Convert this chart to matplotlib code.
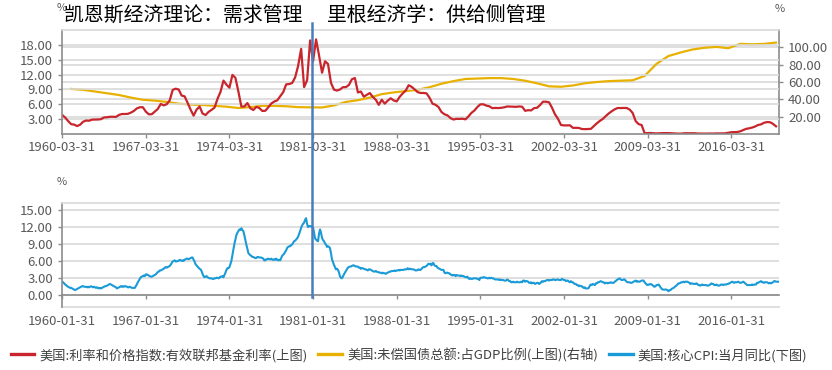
import numpy as np
import pandas as pd
import matplotlib
matplotlib.use("Agg")
import matplotlib.pyplot as plt
import matplotlib.dates as mdates
from matplotlib.lines import Line2D
from matplotlib.transforms import blended_transform_factory

plt.rcParams['font.family'] = ['Noto Sans CJK SC', 'DejaVu Sans']

# effective fed funds rate, quarter-end months, 1960Q1 - 2019Q4
fed_funds = [
    3.84, 3.32, 2.60, 1.98,   # 1960
    1.90, 1.60, 1.88, 2.48,
    2.72, 2.68, 2.90, 2.92,
    2.93, 2.99, 3.34, 3.38,
    3.48, 3.48, 3.45, 3.85,
    4.04, 4.04, 4.07, 4.32,   # 1965
    4.65, 5.17, 5.40, 5.40,
    4.53, 3.98, 3.99, 4.51,
    5.05, 6.07, 5.78, 6.02,
    6.79, 8.90, 9.15, 8.97,
    7.76, 7.60, 6.29, 4.90,   # 1970
    3.71, 4.91, 5.55, 4.14,
    3.83, 4.46, 4.87, 5.33,
    7.09, 8.49, 10.78, 9.95,
    9.35, 11.93, 11.34, 8.53,
    5.54, 5.55, 6.24, 5.20,   # 1975
    4.84, 5.48, 5.25, 4.65,
    4.69, 5.39, 6.14, 6.56,
    6.79, 7.60, 8.45, 10.03,
    10.09, 10.29, 11.43, 13.78,
    17.19, 9.47, 10.87, 18.90,  # 1980
    14.70, 19.10, 15.87, 12.37,
    14.68, 14.15, 10.31, 8.95,
    8.77, 8.98, 9.45, 9.47,
    9.91, 11.06, 11.30, 8.38,
    8.58, 7.53, 7.92, 8.27,   # 1985
    7.48, 6.92, 5.89, 6.91,
    6.13, 6.73, 7.22, 6.77,
    6.58, 7.51, 8.19, 8.76,
    9.85, 9.53, 9.01, 8.45,
    8.28, 8.29, 8.20, 7.31,   # 1990
    6.12, 5.90, 5.45, 4.43,
    3.98, 3.76, 3.22, 2.92,
    3.07, 3.04, 3.09, 2.96,
    3.53, 4.25, 4.73, 5.45,
    5.98, 6.00, 5.74, 5.60,   # 1995
    5.22, 5.27, 5.24, 5.29,
    5.39, 5.56, 5.54, 5.50,
    5.49, 5.56, 5.51, 4.68,
    4.81, 4.76, 5.22, 5.30,
    5.85, 6.53, 6.52, 6.40,   # 2000
    5.31, 3.97, 3.07, 1.82,
    1.73, 1.75, 1.75, 1.24,
    1.25, 1.22, 1.01, 0.98,
    1.00, 1.03, 1.61, 2.16,
    2.63, 3.04, 3.62, 4.16,   # 2005
    4.59, 4.99, 5.25, 5.24,
    5.26, 5.25, 4.94, 4.24,
    2.61, 2.00, 1.81, 0.16,
    0.18, 0.21, 0.15, 0.12,
    0.16, 0.18, 0.19, 0.18,   # 2010
    0.14, 0.09, 0.08, 0.07,
    0.13, 0.16, 0.14, 0.16,
    0.14, 0.09, 0.08, 0.09,
    0.08, 0.10, 0.09, 0.12,
    0.11, 0.13, 0.14, 0.24,   # 2015
    0.36, 0.38, 0.40, 0.54,
    0.79, 1.04, 1.15, 1.30,
    1.51, 1.82, 1.95, 2.27,
    2.41, 2.38, 2.04, 1.55,
]

# federal debt / GDP, year end, 1960 - 2019
debt_gdp = [
    52.0, 51.0, 49.0, 47.0, 45.0, 42.0, 39.5, 38.5, 37.0, 35.0,
    34.0, 33.5, 32.5, 31.5, 30.0, 31.0, 32.5, 32.5, 32.0, 31.0,
    30.8, 30.6, 33.0, 37.0, 39.0, 42.0, 46.0, 48.0, 49.5, 51.0,
    54.0, 58.0, 61.0, 63.5, 64.0, 64.5, 64.5, 63.5, 61.5, 58.5,
    55.0, 54.5, 56.0, 58.5, 60.0, 61.0, 61.5, 62.0, 67.0, 81.0,
    90.0, 94.0, 97.5, 99.5, 100.5, 99.0, 104.0, 103.5, 104.0, 105.5,
]

# core CPI yoy, monthly, 1960-01 - 2019-12
core_cpi = [
    2.3, 2.2, 2.0, 1.8, 1.7, 1.5, 1.4, 1.3, 1.2, 1.2, 1.1, 1.0,   # 1960
    0.9, 0.8, 0.9, 1.0, 1.1, 1.2, 1.3, 1.4, 1.5, 1.5, 1.4, 1.4,
    1.4, 1.3, 1.4, 1.3, 1.4, 1.5, 1.4, 1.3, 1.4, 1.3, 1.2, 1.3,
    1.2, 1.1, 1.2, 1.1, 1.2, 1.3, 1.4, 1.5, 1.5, 1.6, 1.7, 1.8,
    1.9, 1.8, 1.7, 1.6, 1.5, 1.4, 1.3, 1.1, 1.2, 1.3, 1.4, 1.5,
    1.4, 1.5, 1.4, 1.5, 1.5, 1.4, 1.3, 1.3, 1.4, 1.3, 1.2, 1.2,   # 1965
    1.2, 1.2, 1.5, 1.8, 2.2, 2.5, 2.8, 3.1, 3.2, 3.3, 3.4, 3.3,
    3.6, 3.6, 3.5, 3.4, 3.3, 3.2, 3.2, 3.3, 3.4, 3.5, 3.6, 3.8,
    4.0, 4.1, 4.3, 4.3, 4.4, 4.5, 4.6, 4.8, 4.9, 4.8, 4.9, 5.0,
    5.1, 5.3, 5.6, 5.9, 6.0, 6.1, 5.9, 5.9, 6.0, 6.0, 6.2, 6.1,
    6.0, 6.1, 6.0, 6.2, 6.3, 6.4, 6.4, 6.3, 6.4, 6.5, 6.6, 6.6,   # 1970
    6.2, 5.9, 5.4, 5.2, 5.0, 4.8, 4.6, 4.5, 4.2, 3.7, 3.3, 3.1,
    3.2, 3.3, 3.1, 3.0, 2.9, 2.9, 2.9, 2.8, 2.8, 2.9, 2.9, 3.0,
    3.0, 2.9, 3.0, 3.2, 3.2, 3.3, 3.1, 3.5, 3.9, 4.4, 4.7, 4.7,
    4.9, 5.4, 6.0, 7.0, 8.0, 9.0, 9.8, 10.6, 11.0, 11.3, 11.6, 11.5,
    11.8, 11.5, 11.3, 10.6, 9.7, 8.9, 8.2, 7.4, 7.2, 7.0, 6.9, 6.7,   # 1975
    6.7, 6.6, 6.5, 6.5, 6.7, 6.7, 6.6, 6.6, 6.6, 6.5, 6.4, 6.1,
    6.1, 6.3, 6.3, 6.4, 6.3, 6.3, 6.4, 6.2, 6.2, 6.3, 6.2, 6.4,
    6.2, 6.1, 6.2, 6.1, 6.5, 6.9, 7.1, 7.3, 7.6, 7.9, 8.3, 8.5,
    8.6, 8.6, 8.8, 8.9, 9.2, 9.5, 9.6, 9.8, 10.0, 10.3, 10.8, 11.3,
    11.9, 12.3, 12.6, 12.8, 13.3, 13.6, 12.6, 12.0, 12.2, 12.2, 12.1, 12.2,   # 1980
    11.9, 11.1, 10.0, 9.8, 9.6, 9.5, 10.8, 11.6, 11.0, 10.1, 9.7, 9.5,
    9.1, 8.9, 8.5, 8.6, 8.5, 8.3, 7.4, 6.3, 5.8, 5.3, 4.9, 4.5,
    4.6, 4.4, 4.0, 3.3, 3.0, 2.9, 3.2, 3.6, 3.9, 4.2, 4.5, 4.8,
    4.9, 5.0, 5.0, 5.1, 5.2, 5.2, 5.1, 5.0, 5.0, 5.0, 4.8, 4.8,
    4.6, 4.7, 4.7, 4.6, 4.5, 4.5, 4.4, 4.3, 4.5, 4.5, 4.4, 4.3,   # 1985
    4.2, 4.1, 4.1, 4.2, 4.1, 4.0, 4.0, 3.9, 3.9, 3.8, 3.9, 3.8,
    3.8, 3.7, 3.8, 3.9, 4.0, 4.1, 4.1, 4.2, 4.2, 4.2, 4.3, 4.2,
    4.3, 4.3, 4.4, 4.3, 4.4, 4.4, 4.4, 4.4, 4.5, 4.5, 4.5, 4.7,
    4.5, 4.6, 4.6, 4.5, 4.5, 4.5, 4.4, 4.3, 4.3, 4.4, 4.5, 4.4,
    4.4, 4.6, 4.8, 4.9, 4.9, 5.0, 5.1, 5.3, 5.5, 5.4, 5.5, 5.2,   # 1990
    5.6, 5.6, 5.2, 5.1, 5.1, 4.8, 4.7, 4.6, 4.5, 4.4, 4.4, 4.4,
    3.9, 3.8, 3.9, 3.9, 3.8, 3.8, 3.6, 3.5, 3.4, 3.5, 3.5, 3.3,
    3.5, 3.4, 3.4, 3.4, 3.3, 3.4, 3.3, 3.3, 3.2, 3.1, 3.1, 3.2,
    2.9, 2.8, 2.9, 2.8, 2.8, 2.9, 2.9, 2.9, 2.9, 2.8, 2.8, 2.6,
    3.0, 3.0, 3.0, 3.1, 3.1, 3.0, 3.0, 2.9, 2.9, 3.0, 2.9, 3.0,   # 1995
    2.9, 2.9, 2.8, 2.7, 2.7, 2.7, 2.7, 2.6, 2.7, 2.6, 2.6, 2.6,
    2.5, 2.5, 2.5, 2.7, 2.6, 2.4, 2.4, 2.2, 2.2, 2.3, 2.2, 2.2,
    2.2, 2.3, 2.2, 2.2, 2.2, 2.3, 2.2, 2.5, 2.5, 2.3, 2.4, 2.4,
    2.3, 2.1, 2.1, 2.2, 2.0, 2.1, 2.1, 1.9, 2.0, 2.1, 2.1, 1.9,
    2.0, 2.2, 2.4, 2.3, 2.4, 2.4, 2.5, 2.6, 2.6, 2.5, 2.6, 2.6,   # 2000
    2.6, 2.7, 2.7, 2.6, 2.6, 2.7, 2.7, 2.6, 2.6, 2.6, 2.8, 2.7,
    2.6, 2.6, 2.4, 2.5, 2.5, 2.3, 2.2, 2.4, 2.2, 2.2, 2.0, 1.9,
    1.9, 1.7, 1.7, 1.5, 1.6, 1.5, 1.5, 1.3, 1.2, 1.3, 1.1, 1.1,
    1.1, 1.2, 1.6, 1.8, 1.7, 1.9, 1.8, 1.7, 2.0, 2.0, 2.2, 2.2,
    2.3, 2.4, 2.3, 2.2, 2.2, 2.0, 2.1, 2.1, 2.0, 2.1, 2.1, 2.2,   # 2005
    2.1, 2.1, 2.1, 2.3, 2.4, 2.6, 2.7, 2.8, 2.9, 2.7, 2.6, 2.6,
    2.7, 2.7, 2.5, 2.3, 2.2, 2.2, 2.2, 2.1, 2.1, 2.2, 2.3, 2.4,
    2.5, 2.3, 2.4, 2.3, 2.3, 2.4, 2.5, 2.5, 2.5, 2.2, 2.0, 1.8,
    1.7, 1.8, 1.8, 1.9, 1.8, 1.7, 1.5, 1.4, 1.5, 1.7, 1.7, 1.8,
    1.6, 1.3, 1.1, 0.9, 0.9, 0.9, 0.9, 0.9, 0.8, 0.6, 0.8, 0.8,   # 2010
    1.0, 1.1, 1.2, 1.3, 1.5, 1.6, 1.8, 2.0, 2.0, 2.1, 2.2, 2.2,
    2.3, 2.2, 2.3, 2.3, 2.3, 2.2, 2.1, 1.9, 2.0, 2.0, 1.9, 1.9,
    1.9, 2.0, 1.9, 1.7, 1.7, 1.6, 1.7, 1.8, 1.7, 1.7, 1.7, 1.7,
    1.6, 1.6, 1.7, 1.8, 2.0, 1.9, 1.9, 1.7, 1.7, 1.8, 1.7, 1.6,
    1.6, 1.7, 1.8, 1.8, 1.7, 1.8, 1.8, 1.8, 1.9, 1.9, 2.0, 2.1,   # 2015
    2.2, 2.3, 2.2, 2.1, 2.2, 2.2, 2.2, 2.3, 2.2, 2.1, 2.1, 2.2,
    2.3, 2.2, 2.0, 1.9, 1.7, 1.7, 1.7, 1.7, 1.7, 1.8, 1.7, 1.8,
    1.8, 1.8, 2.1, 2.1, 2.2, 2.3, 2.4, 2.2, 2.2, 2.1, 2.2, 2.2,
    2.2, 2.1, 2.0, 2.1, 2.0, 2.1, 2.2, 2.4, 2.4, 2.3, 2.3, 2.3,
]

top_ticks_left = [3, 6, 9, 12, 15, 18]
top_ticks_right = [20, 40, 60, 80, 100]
bottom_ticks = [0, 3, 6, 9, 12, 15]

title = '凯恩斯经济理论：需求管理　 里根经济学：供给侧管理'
label_ff = '美国:利率和价格指数:有效联邦基金利率(上图)'
label_debt = '美国:未偿国债总额:占GDP比例(上图)(右轴)'
label_cpi = '美国:核心CPI:当月同比(下图)'

ff_dates = pd.date_range('1960-03-31', periods=len(fed_funds), freq=pd.offsets.QuarterEnd())
debt_dates = pd.date_range('1960-12-31', periods=len(debt_gdp), freq=pd.offsets.YearEnd())
cpi_dates = pd.date_range('1960-01-31', periods=len(core_cpi), freq=pd.offsets.MonthEnd())

RED = '#c8252c'
GOLD = '#e8b100'
BLUE = '#1a9bd7'
GRID = '#d9d9d9'
AXIS = '#8c8c8c'
TXT = '#595959'

W, H = 832, 370
fig = plt.figure(figsize=(W / 100, H / 100), dpi=100)
ax1 = fig.add_axes([62 / W, 1 - 134 / H, 717 / W, 104 / H])
ax1r = ax1.twinx()
ax2 = fig.add_axes([62 / W, 1 - 307 / H, 717 / W, 104 / H])

# put left axis (red) above right axis (gold)
ax1.set_zorder(ax1r.get_zorder() + 1)
ax1.patch.set_visible(False)

l1, = ax1.plot(ff_dates, fed_funds, color=RED, lw=1.6)
l2, = ax1r.plot(debt_dates, debt_gdp, color=GOLD, lw=1.6)
l3, = ax2.plot(cpi_dates, core_cpi, color=BLUE, lw=1.5)


def date_ticks(ax, start_md, x0, x1):
    ticks = [pd.Timestamp(f'{y}-{start_md}') for y in range(1960, 2020, 7)]
    ax.set_xticks(ticks)
    ax.set_xticklabels([t.strftime('%Y-%m-%d') for t in ticks])
    ax.set_xlim(pd.Timestamp(x0), pd.Timestamp(x1))


date_ticks(ax1, '03-31', '1960-03-25', '2020-03-31')
date_ticks(ax2, '01-31', '1960-01-25', '2020-01-31')

ax1.set_ylim(0, 21)
ax1.set_yticks(top_ticks_left)
ax1.set_yticklabels([f'{v:.2f}' for v in top_ticks_left])
ax1r.set_ylim(0, 120)
ax1r.set_yticks(top_ticks_right)
ax1r.set_yticklabels([f'{v:.2f}' for v in top_ticks_right])
ax2.set_ylim(-2.2, 16.3)
ax2.set_yticks(bottom_ticks)
ax2.set_yticklabels([f'{v:.2f}' for v in bottom_ticks])

for ax in (ax1, ax1r, ax2):
    ax.set_axisbelow(True)
    ax.tick_params(labelsize=9.5, labelcolor=TXT, color=AXIS, length=3, width=1)
    for s in ax.spines.values():
        s.set_color(AXIS)
        s.set_linewidth(1.2)

ax1.grid(axis='y', color=GRID, lw=1.2)
ax1r.grid(axis='y', color=GRID, lw=1.2)
ax1.grid(axis='x', visible=False)
ax1r.grid(axis='x', visible=False)
ax2.grid(axis='y', color=GRID, lw=1.2)
ax1.spines['top'].set_color(GRID)
ax1r.spines['top'].set_visible(False)
ax1.spines['right'].set_visible(False)
ax1r.spines['left'].set_visible(False)
ax1r.spines['bottom'].set_visible(False)
ax1.tick_params(axis='x', pad=2)

# bottom panel: x axis sits on zero, light frame top and bottom
ax2.spines['top'].set_color(GRID)
ax2.spines['right'].set_visible(False)
ax2.spines['bottom'].set_position(('data', 0))
ax2.plot([0, 1], [0, 0], transform=ax2.transAxes, color=GRID, lw=1.2, clip_on=False)
ax2.tick_params(axis='x', pad=12)

# % unit labels
fig.text(62 / W, 1 - 8 / H, '%', fontsize=8, color=TXT, ha='center', va='center')
fig.text(780 / W, 1 - 9 / H, '%', fontsize=8, color=TXT, ha='center', va='center')
fig.text(62 / W, 1 - 182 / H, '%', fontsize=8, color=TXT, ha='center', va='center')

fig.text(64 / W, 1 - 15 / H, title, fontsize=14.3, color='black', ha='left', va='center')

# Reagan marker across both panels
trans = blended_transform_factory(ax1.transData, fig.transFigure)
xd = mdates.date2num(pd.Timestamp('1981-02-20'))
fig.add_artist(Line2D([xd, xd], [1 - 23 / H, 1 - 297 / H], transform=trans,
                      color='#4a7dbd', lw=1.8))

leg = fig.legend(handles=[l1, l2, l3], labels=[label_ff, label_debt, label_cpi],
                 loc='center', bbox_to_anchor=(409 / W, 1 - 355 / H), ncol=3,
                 frameon=False, fontsize=9.5, handlelength=1.8, handletextpad=0.4,
                 columnspacing=0.8, labelcolor='#404040')
for h in leg.legend_handles:
    h.set_linewidth(2.4)

fig.savefig('out.png', dpi=100)
